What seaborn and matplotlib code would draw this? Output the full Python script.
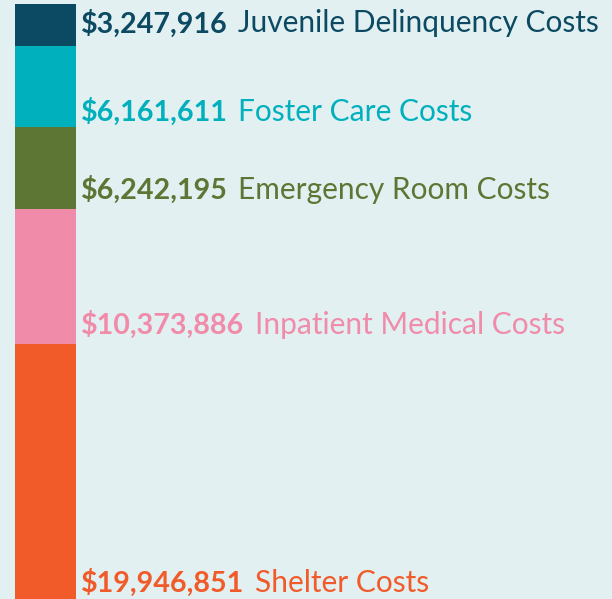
import matplotlib
matplotlib.use("Agg")
import matplotlib.pyplot as plt
import matplotlib.transforms as mtransforms
import seaborn as sns
import numpy as np

# data
categories = ["Juvenile Delinquency Costs", "Foster Care Costs", "Emergency Room Costs",
              "Inpatient Medical Costs", "Shelter Costs"]
values = [3247916, 6161611, 6242195, 10373886, 19946851]
colors = ["#0b4a62", "#00b0bc", "#5d7634", "#f08ba9", "#f15a29"]
label_lift_px = [14, 6, 10, 10, 13]  # label baseline above segment bottom

bg = "#e2f0f2"
sns.set_theme(style="white")
plt.rcParams["font.family"] = ["Lato", "DejaVu Sans"]

fig = plt.figure(figsize=(6.12, 5.99), dpi=100, facecolor=bg)
ax = fig.add_axes([0, 0, 1, 1])
ax.set_facecolor(bg)

bottoms = np.concatenate([[0], np.cumsum(values)[:-1]])
for i in range(len(values)):
    sns.barplot(x=[0], y=[values[i]], bottom=bottoms[i], color=colors[i],
                width=0.8, saturation=1, ax=ax, native_scale=True, linewidth=0)

px_per_unit = 61 / 0.8
left = -0.4 - 15 / px_per_unit
ax.set_xlim(left, left + 612 / px_per_unit)
scale = 76500  # dollars per pixel
ax.set_ylim((599 - 4) * scale, -4 * scale)
ax.axis("off")

fig.canvas.draw()
renderer = fig.canvas.get_renderer()
trans = mtransforms.blended_transform_factory(ax.transAxes, ax.transData)
x0 = 80.5 / 612
for i in range(len(values)):
    ybase = bottoms[i] + values[i] - label_lift_px[i] * scale
    t = ax.text(x0, ybase, f"${values[i]:,}", transform=trans, color=colors[i],
                fontsize=20.6, fontweight="bold", va="baseline", ha="left")
    bb = t.get_window_extent(renderer)
    ax.text((bb.x1 + 11) / 612, ybase, categories[i], transform=trans,
            color=colors[i], fontsize=21.5, fontweight="normal",
            va="baseline", ha="left")

fig.savefig("out.png", dpi=100, facecolor=bg)
